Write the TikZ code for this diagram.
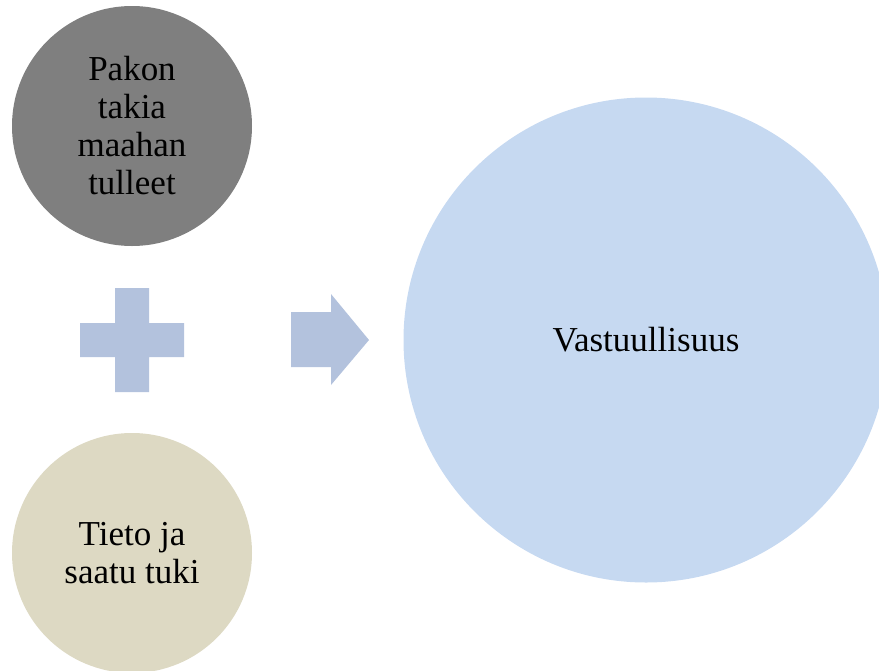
\documentclass[tikz,border=0pt]{standalone}
\usepackage{fontspec}
\setmainfont{Liberation Serif}
\usepackage{tikz}
\usetikzlibrary{calc,positioning}
\tikzset{
  bubble/.style = {circle, draw=none, align=center, inner sep=0pt, text=black,
  font=\fontsize{35}{38}\selectfont},
  bub_s/.style = {bubble, minimum size=240pt},
  bub_l/.style = {bubble, minimum size=485pt}
}
\definecolor{my_grey}{RGB}{127, 127, 127}
\definecolor{my_sand}{RGB}{221, 217, 195}
\definecolor{my_sky}{RGB}{198, 217, 241}
\definecolor{my_steel}{RGB}{179, 194, 221}

\begin{document}
\begin{tikzpicture}[x=1pt, y=-1pt,
        grey/.style={fill=my_grey},
        sand/.style={fill=my_sand},
        sky/.style={fill=my_sky},
        sign/.style={fill=my_steel, draw=none}]
    \useasboundingbox (0,0) rectangle (879,670);
    \clip (0,0) rectangle (879,670);
    \node [bub_s, grey] (pako) at (132,126) {Pakon\\takia\\maahan\\tulleet};
    \node [bub_s, sand] (tieto) at (132,553) {Tieto ja\\saatu tuki};
    \node [bub_l, sky] (vastuu) at (646,340) {Vastuullisuus};
    % plus and arrow between the bubbles
    \coordinate (plus) at (132,340);
    \coordinate (arr) at (291,340);
    \fill [sign] ($(plus)+(-17,-52)$) -- ++(34,0) -- ++(0,35) -- ++(35,0) -- ++(0,34)
        -- ++(-35,0) -- ++(0,35) -- ++(-34,0) -- ++(0,-35) -- ++(-35,0) -- ++(0,-34)
        -- ++(35,0) -- cycle;
    \fill [sign] ($(arr)+(0,-28)$) -- ++(40,0) -- ++(0,-18) -- ++(38,46) -- ++(-38,45)
        -- ++(0,-18) -- ++(-40,0) -- cycle;
\end{tikzpicture}
\end{document}
